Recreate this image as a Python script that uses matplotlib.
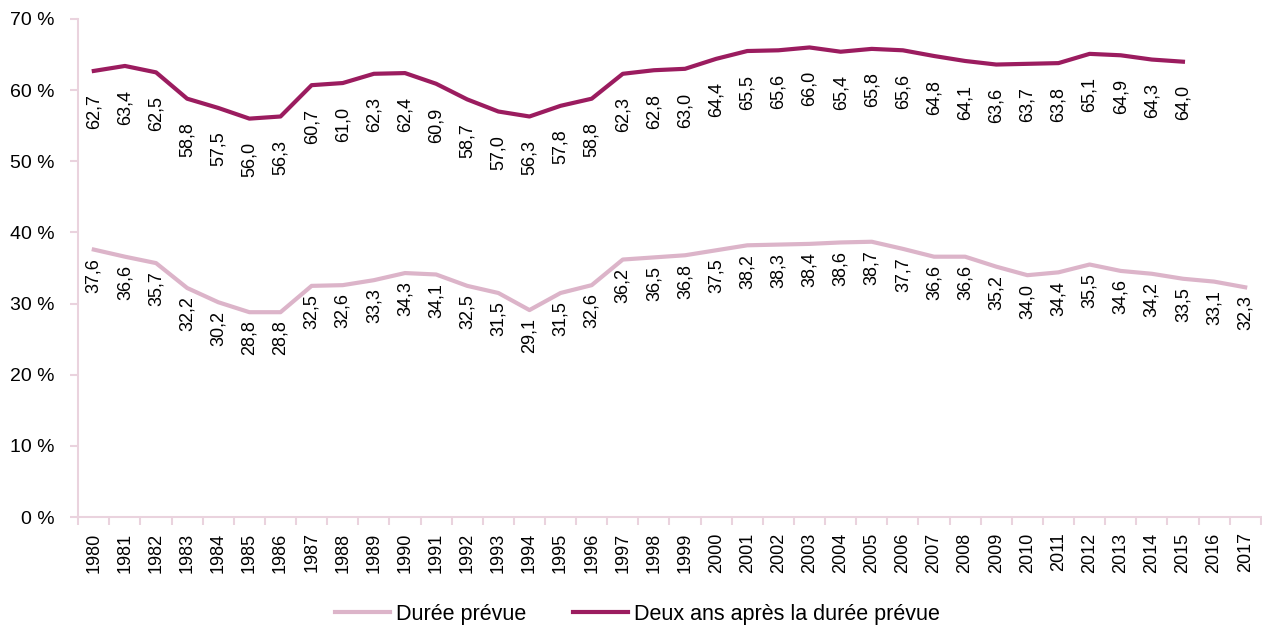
import matplotlib.pyplot as plt
import numpy as np

plt.rcParams['font.family'] = ['Liberation Sans Narrow', 'Liberation Sans', 'DejaVu Sans']

years = list(range(1980, 2018))
duree_prevue = [37.6, 36.6, 35.7, 32.2, 30.2, 28.8, 28.8, 32.5, 32.6, 33.3,
                34.3, 34.1, 32.5, 31.5, 29.1, 31.5, 32.6, 36.2, 36.5, 36.8,
                37.5, 38.2, 38.3, 38.4, 38.6, 38.7, 37.7, 36.6, 36.6, 35.2,
                34.0, 34.4, 35.5, 34.6, 34.2, 33.5, 33.1, 32.3]
deux_ans = [62.7, 63.4, 62.5, 58.8, 57.5, 56.0, 56.3, 60.7, 61.0, 62.3,
            62.4, 60.9, 58.7, 57.0, 56.3, 57.8, 58.8, 62.3, 62.8, 63.0,
            64.4, 65.5, 65.6, 66.0, 65.4, 65.8, 65.6, 64.8, 64.1, 63.6,
            63.7, 63.8, 65.1, 64.9, 64.3, 64.0]
yticks = [0, 10, 20, 30, 40, 50, 60, 70]

light = '#dcb4c9'
dark = '#9b1c5f'
axis_col = '#ead3de'

fig = plt.figure(figsize=(12.62, 6.33), dpi=100)
ax = fig.add_axes([0.062, 0.183, 0.937, 0.787])

x = np.arange(len(years))
ax.plot(x, duree_prevue, color=light, lw=3, label='Durée prévue')
ax.plot(x[:len(deux_ans)], deux_ans, color=dark, lw=3, label='Deux ans après la durée prévue')

def fmt(v):
    return f'{v:.1f}'.replace('.', ',')

for xi, v in zip(x, duree_prevue):
    ax.annotate(fmt(v), (xi, v), xytext=(0, -6), textcoords='offset points',
                rotation=90, ha='center', va='top', fontsize=13)
for xi, v in zip(x, deux_ans):
    ax.annotate(fmt(v), (xi, v), xytext=(0, -17), textcoords='offset points',
                rotation=90, ha='center', va='top', fontsize=13)

ax.set_xlim(-0.5, len(years) - 0.5)
ax.set_ylim(0, 70)
ax.set_yticks(yticks)
ax.set_yticklabels([f'{t} %' for t in yticks], fontsize=14)
ax.set_xticks(x)
ax.set_xticklabels([str(y) for y in years], rotation=90, fontsize=13)
ax.set_xticks(np.arange(len(years) + 1) - 0.5, minor=True)
ax.tick_params(axis='x', which='major', length=0, pad=11)
ax.tick_params(axis='x', which='minor', length=6, color=axis_col, width=1.5)
ax.tick_params(axis='y', length=6, color=axis_col, width=1.5, pad=11)

for s in ['top', 'right']:
    ax.spines[s].set_visible(False)
for s in ['left', 'bottom']:
    ax.spines[s].set_color(axis_col)
    ax.spines[s].set_linewidth(1.5)

fig.legend(loc='lower center', bbox_to_anchor=(0.505, -0.018), ncol=2, frameon=False,
           fontsize=15.5, handlelength=2.56, columnspacing=2.2, handletextpad=0.25)

fig.savefig('out.png', dpi=100)
